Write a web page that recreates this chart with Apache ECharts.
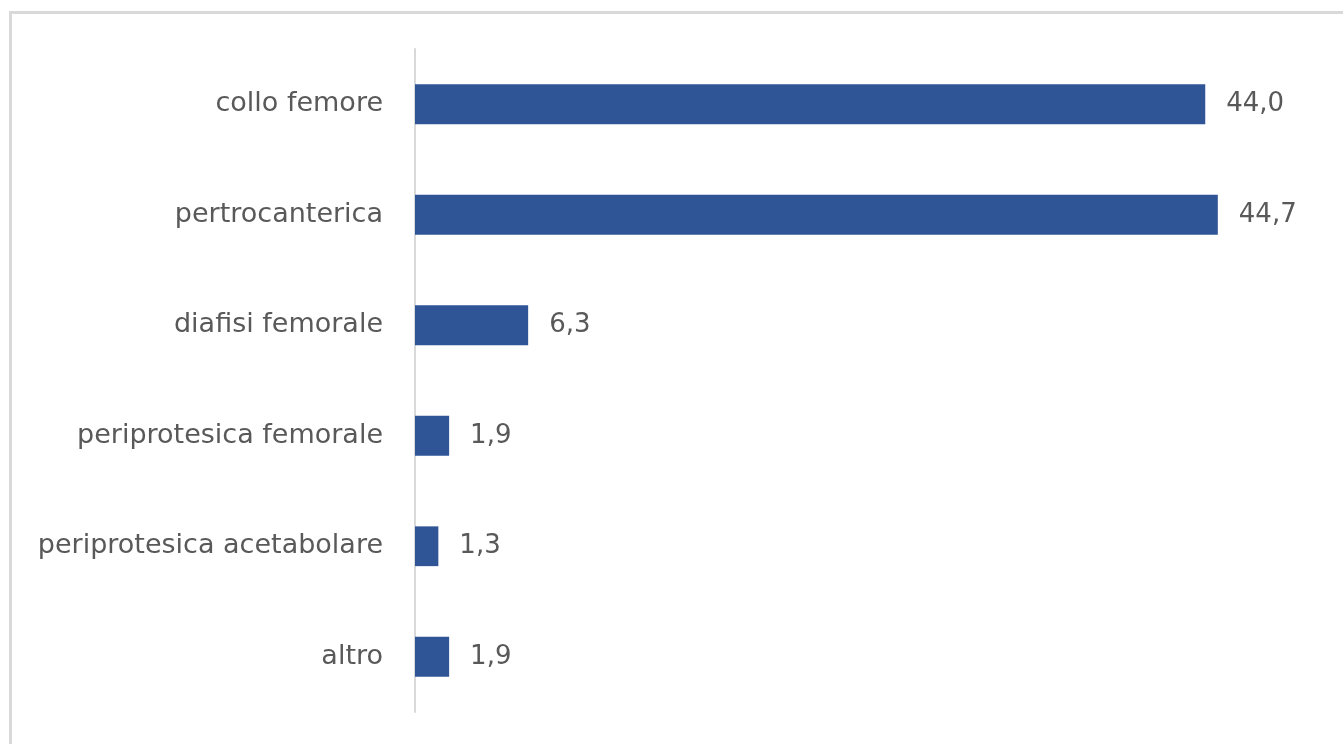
<!DOCTYPE html>
<html>
<head>
<meta charset="utf-8">
<script src="https://cdn.jsdelivr.net/npm/echarts@6/dist/echarts.min.js"></script>
<style>
  html, body { margin: 0; padding: 0; background: #fff; }
  .frame {
    position: absolute;
    left: 9px;
    top: 11px;
    width: 1350px;
    height: 760px;
    border: 3px solid #d9d9d9;
    box-sizing: border-box;
  }
  #chart { position: absolute; left: 0; top: 0; width: 1343px; height: 744px; }
</style>
</head>
<body>
<div class="frame"></div>
<div id="chart"></div>
<script>
// categories from top to bottom
const categories = [
  'collo femore',
  'pertrocanterica',
  'diafisi femorale',
  'periprotesica femorale',
  'periprotesica acetabolare',
  'altro'
]
const values = [44.0, 44.7, 6.3, 1.9, 1.3, 1.9]

const myChart = echarts.init(document.getElementById('chart'))
const fontFamily = '"DejaVu Sans", sans-serif'

const option = {
  animation: false,
  grid: {
    left: 415,
    right: 30,
    top: 49,
    bottom: 32
  },
  xAxis: {
    type: 'value',
    min: 0,
    max: 50,
    show: false
  },
  yAxis: {
    type: 'category',
    inverse: true,
    data: categories,
    axisLine: {
      show: true,
      lineStyle: { color: '#d9d9d9', width: 2 }
    },
    axisTick: { show: false },
    axisLabel: {
      color: '#595959',
      fontSize: 27,
      fontFamily: fontFamily,
      margin: 32
    }
  },
  series: [
    {
      type: 'bar',
      data: values,
      barCategoryGap: '64%',
      itemStyle: { color: '#2f5597' },
      label: {
        show: true,
        position: 'right',
        distance: 21,
        color: '#595959',
        fontSize: 26,
        fontFamily: fontFamily,
        formatter: (p) => p.value.toFixed(1).replace('.', ',')
      }
    }
  ]
}
myChart.setOption(option)
</script>
</body>
</html>
